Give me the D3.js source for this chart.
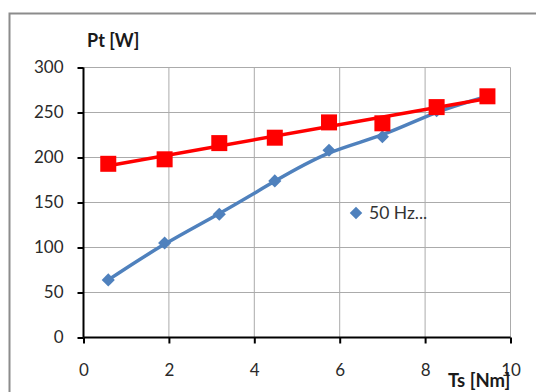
<!DOCTYPE html>
<html><head><meta charset="utf-8">
<script src="https://cdn.jsdelivr.net/npm/d3@7"></script>
<style>body{margin:0;background:#fff}svg{display:block}</style>
</head><body>
<script>
const torque = [0.58, 1.9, 3.18, 4.48, 5.75, 7.0, 8.27, 9.46];
const blueVals = [64, 105, 137, 174, 208, 223, 252, 268];
const redVals = [193, 198, 216, 222, 239, 238, 256, 268];
const xTicks = [0, 2, 4, 6, 8, 10];
const yTicks = [0, 50, 100, 150, 200, 250, 300];
const legendLabel = "50 Hz...";
const yTitle = "Pt [W]";
const xTitle = "Ts [Nm]";

const W = 536, H = 392;
const svg = d3.select("body").append("svg").attr("width", W).attr("height", H);
const font = "Lato, 'Open Sans', sans-serif";

// outer chart border
svg.append("rect").attr("x", 9.5).attr("y", 13.5).attr("width", 600).attr("height", 500)
  .attr("fill", "none").attr("stroke", "#8c8c8c").attr("stroke-width", 2);

const x = d3.scaleLinear().domain([0, 10]).range([83.5, 510.5]);
const y = d3.scaleLinear().domain([0, 300]).range([337.5, 67.5]);

// gridlines
const g = svg.append("g");
g.selectAll(".hg").data(yTicks.filter(d => d > 0)).join("line")
  .attr("x1", x(0)).attr("x2", x(10)).attr("y1", d => y(d)).attr("y2", d => y(d))
  .attr("stroke", "#ababab").attr("stroke-width", 1);
g.selectAll(".vg").data(xTicks.filter(d => d > 0)).join("line")
  .attr("x1", d => x(d)).attr("x2", d => x(d)).attr("y1", y(0)).attr("y2", y(300))
  .attr("stroke", "#ababab").attr("stroke-width", 1);

// axes
const yAxis = d3.axisLeft(y).tickValues(yTicks).tickSize(6).tickPadding(14);
const xAxis = d3.axisBottom(x).tickValues(xTicks).tickSize(6).tickPadding(20);
const ya = svg.append("g").attr("transform", `translate(${x(0)},0)`).call(yAxis);
const xa = svg.append("g").attr("transform", `translate(0,${y(0)})`).call(xAxis);
[ya, xa].forEach(a => {
  a.select(".domain").attr("stroke", "#000").attr("stroke-width", 2);
  a.selectAll(".tick line").attr("stroke", "#000").attr("stroke-width", 2);
  a.selectAll("text").attr("font-family", font).attr("font-size", 17).attr("fill", "#2a2a2a");
});
xa.select(".domain").attr("d", `M${x(0)},0H${x(10)}`);
ya.select(".domain").attr("d", `M0,${y(0)}V${y(300)}`);

// blue series: smooth curve
const pts = torque.map((t, i) => [t, blueVals[i]]);
svg.append("path").datum(pts)
  .attr("d", d3.line().x(d => x(d[0])).y(d => y(d[1])).curve(d3.curveBasis))
  .attr("fill", "none").attr("stroke", "#4f81bd").attr("stroke-width", 3.5);
svg.selectAll(".dia").data(pts).join("path")
  .attr("d", d3.symbol().type(d3.symbolDiamond2).size(110))
  .attr("transform", d => `translate(${x(d[0])},${y(d[1])})`)
  .attr("fill", "#4f81bd");

// red series: linear trend from data
const rp = torque.map((t, i) => [t, redVals[i]]);
const n = rp.length;
const mx = d3.mean(rp, d => d[0]), my = d3.mean(rp, d => d[1]);
const slope = d3.sum(rp, d => (d[0] - mx) * (d[1] - my)) / d3.sum(rp, d => (d[0] - mx) ** 2);
const icpt = my - slope * mx;
const ends = [torque[0], torque[n - 1]].map(t => [t, icpt + slope * t]);
svg.append("path").datum(ends)
  .attr("d", d3.line().x(d => x(d[0])).y(d => y(d[1])))
  .attr("fill", "none").attr("stroke", "#ff0000").attr("stroke-width", 3.5);
svg.selectAll(".sq").data(rp).join("rect")
  .attr("x", d => x(d[0]) - 8).attr("y", d => y(d[1]) - 8)
  .attr("width", 16).attr("height", 16).attr("fill", "#ff0000");

// legend
svg.append("path").attr("d", d3.symbol().type(d3.symbolDiamond2).size(100))
  .attr("transform", "translate(356,213)").attr("fill", "#4f81bd");
svg.append("text").attr("x", 369).attr("y", 219).text(legendLabel)
  .attr("font-family", font).attr("font-size", 17.5).attr("fill", "#333");

// axis titles
svg.append("text").attr("x", 87).attr("y", 47).text(yTitle)
  .attr("font-family", font).attr("font-size", 18).attr("font-weight", "bold").attr("fill", "#1a1a1a");
svg.append("text").attr("x", 448).attr("y", 387).text(xTitle)
  .attr("font-family", font).attr("font-size", 18.5).attr("font-weight", "bold").attr("fill", "#1a1a1a");
</script>
</body></html>
